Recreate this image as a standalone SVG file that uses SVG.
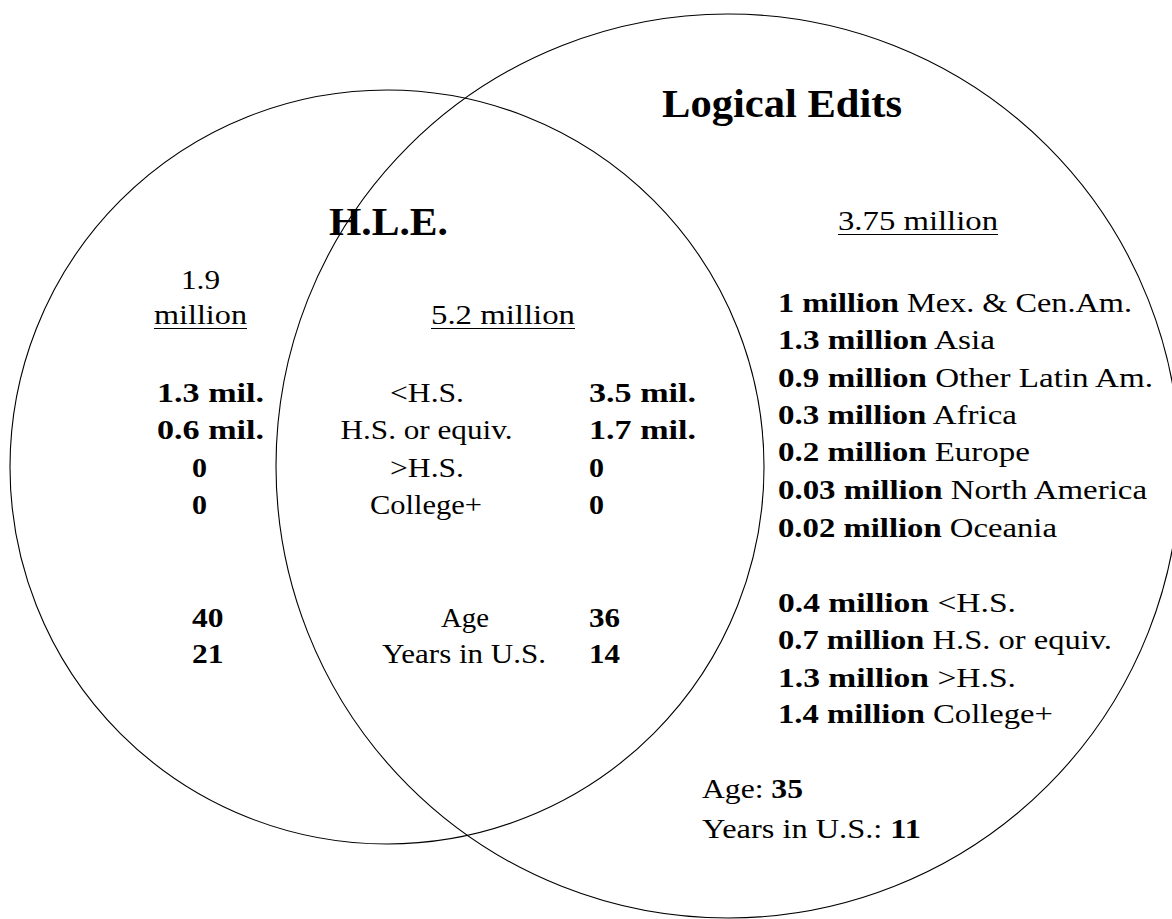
<svg xmlns="http://www.w3.org/2000/svg" width="1172" height="919" viewBox="0 0 1172 919">
<style>
.c{fill:none;stroke:#000;stroke-width:1.1}
text{font-family:"Liberation Serif","Times New Roman",serif;font-size:28px;fill:#000}
.b{font-weight:bold}
.t{font-weight:bold;font-size:39px}
.u{stroke:#000;stroke-width:1.2}
</style>
<rect width="1172" height="919" fill="#fff"/>
<g id="hle-set">
<circle class="c" cx="387" cy="467" r="377"/>
<text class="t" x="329" y="235" textLength="119" lengthAdjust="spacingAndGlyphs">H.L.E.</text>
</g>
<g id="logical-edits-set">
<circle class="c" cx="728" cy="466" r="452"/>
<text class="t" x="662" y="117" textLength="240" lengthAdjust="spacingAndGlyphs">Logical Edits</text>
</g>
<g id="hle-only">
<text x="181" y="289" textLength="39" lengthAdjust="spacingAndGlyphs">1.9</text>
<text x="154" y="324" textLength="93" lengthAdjust="spacingAndGlyphs">million</text>
<line class="u" x1="154" y1="328.5" x2="247" y2="328.5"/>
<text class="b" x="157" y="401.7" textLength="107" lengthAdjust="spacingAndGlyphs">1.3 mil.</text>
<text class="b" x="157" y="439" textLength="107" lengthAdjust="spacingAndGlyphs">0.6 mil.</text>
<text class="b" x="192" y="476.7" textLength="15" lengthAdjust="spacingAndGlyphs">0</text>
<text class="b" x="192" y="514" textLength="15" lengthAdjust="spacingAndGlyphs">0</text>
<text class="b" x="192" y="626.7" textLength="31.5" lengthAdjust="spacingAndGlyphs">40</text>
<text class="b" x="192" y="663" textLength="31.5" lengthAdjust="spacingAndGlyphs">21</text>
</g>
<g id="both">
<text x="431" y="324" textLength="144" lengthAdjust="spacingAndGlyphs">5.2 million</text>
<line class="u" x1="431" y1="328.5" x2="575" y2="328.5"/>
<text x="390" y="401.7" textLength="74" lengthAdjust="spacingAndGlyphs">&lt;H.S.</text>
<text x="340.5" y="438.5" textLength="172" lengthAdjust="spacingAndGlyphs">H.S. or equiv.</text>
<text x="390" y="476.7" textLength="74" lengthAdjust="spacingAndGlyphs">&gt;H.S.</text>
<text x="370" y="514" textLength="112" lengthAdjust="spacingAndGlyphs">College+</text>
<text x="441" y="626.7" textLength="48" lengthAdjust="spacingAndGlyphs">Age</text>
<text x="382" y="663" textLength="164" lengthAdjust="spacingAndGlyphs">Years in U.S.</text>
<text class="b" x="589" y="401.7" textLength="107" lengthAdjust="spacingAndGlyphs">3.5 mil.</text>
<text class="b" x="589" y="439" textLength="107" lengthAdjust="spacingAndGlyphs">1.7 mil.</text>
<text class="b" x="589" y="476.7" textLength="15" lengthAdjust="spacingAndGlyphs">0</text>
<text class="b" x="589" y="514" textLength="15" lengthAdjust="spacingAndGlyphs">0</text>
<text class="b" x="589" y="626.7" textLength="31" lengthAdjust="spacingAndGlyphs">36</text>
<text class="b" x="589" y="663" textLength="31" lengthAdjust="spacingAndGlyphs">14</text>
</g>
<g id="logical-only">
<text x="838" y="230" textLength="160" lengthAdjust="spacingAndGlyphs">3.75 million</text>
<line class="u" x1="838" y1="234.5" x2="998" y2="234.5"/>
<text x="778" y="311.7" textLength="354" lengthAdjust="spacingAndGlyphs"><tspan class="b">1 million</tspan> Mex. &amp; Cen.Am.</text>
<text x="778" y="349" textLength="217" lengthAdjust="spacingAndGlyphs"><tspan class="b">1.3 million</tspan> Asia</text>
<text x="778" y="386.7" textLength="375" lengthAdjust="spacingAndGlyphs"><tspan class="b">0.9 million</tspan> Other Latin Am.</text>
<text x="778" y="424" textLength="239" lengthAdjust="spacingAndGlyphs"><tspan class="b">0.3 million</tspan> Africa</text>
<text x="778" y="460.7" textLength="252" lengthAdjust="spacingAndGlyphs"><tspan class="b">0.2 million</tspan> Europe</text>
<text x="778" y="499" textLength="369" lengthAdjust="spacingAndGlyphs"><tspan class="b">0.03 million</tspan> North America</text>
<text x="778" y="536.7" textLength="279" lengthAdjust="spacingAndGlyphs"><tspan class="b">0.02 million</tspan> Oceania</text>
<text x="778" y="612" textLength="238" lengthAdjust="spacingAndGlyphs"><tspan class="b">0.4 million</tspan> &lt;H.S.</text>
<text x="778" y="649" textLength="334" lengthAdjust="spacingAndGlyphs"><tspan class="b">0.7 million</tspan> H.S. or equiv.</text>
<text x="778" y="686.7" textLength="238" lengthAdjust="spacingAndGlyphs"><tspan class="b">1.3 million</tspan> &gt;H.S.</text>
<text x="778" y="723" textLength="275" lengthAdjust="spacingAndGlyphs"><tspan class="b">1.4 million</tspan> College+</text>
<text x="702" y="798" textLength="101" lengthAdjust="spacingAndGlyphs">Age: <tspan class="b">35</tspan></text>
<text x="702" y="838" textLength="219" lengthAdjust="spacingAndGlyphs">Years in U.S.: <tspan class="b">11</tspan></text>
</g>
</svg>
